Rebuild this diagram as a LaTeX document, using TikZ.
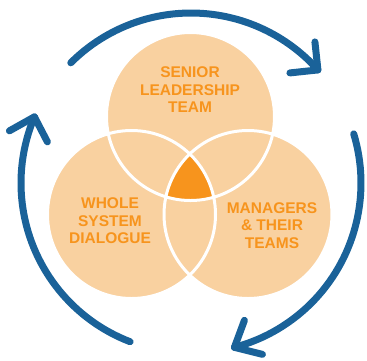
\documentclass[tikz,border=0pt]{standalone}
\usepackage{fontspec}
\setmainfont{Liberation Sans}
\usetikzlibrary{calc}
\definecolor{petal}{HTML}{F9D1A0}
\definecolor{core}{HTML}{F7941D}
\definecolor{cycle}{HTML}{1A6299}
\begin{document}
\begin{tikzpicture}[x=1pt,y=-1pt,
  ringtext/.style={text=core,font=\bfseries\fontsize{15.5}{17.5}\selectfont,align=center,inner sep=0pt},
  loop/.style={draw=cycle,line width=7pt,line cap=round,line join=round},
  rim/.style={draw=white,line width=3pt}]
\useasboundingbox (0,0) rectangle (367,360);
\def\R{84}
% three overlapping circles
\coordinate (top) at (190.5,116.5);
\coordinate (left) at (131.5,214.5);
\coordinate (right) at (248,214.5);
\fill[petal] (top) circle[radius=\R] (left) circle[radius=\R] (right) circle[radius=\R];
% common core of all three
\begin{scope}
  \clip (top) circle[radius=\R];
  \clip (left) circle[radius=\R];
  \fill[core] (right) circle[radius=\R];
\end{scope}
\draw[rim] (top) circle[radius=\R] (left) circle[radius=\R] (right) circle[radius=\R];
% labels
\node[ringtext] (slt) at (190,90) {SENIOR\\LEADERSHIP\\TEAM};
\node[ringtext] (wsd) at (110,221) {WHOLE\\SYSTEM\\DIALOGUE};
\node[ringtext] (mgr) at (272,225.5) {MANAGERS\\\& THEIR\\TEAMS};
% circular arrows around the diagram
\coordinate (hub) at (191,183);
\draw[loop] (hub) ++(-135:170) arc[start angle=-135,end angle=-41.7,radius=170] coordinate (tipA);
\draw[loop] ($(tipA)+(-3,-28)$) -- (tipA) -- ($(tipA)+(-28,3)$);
\draw[loop] (hub) ++(-16.8:170) arc[start angle=-16.8,end angle=75.2,radius=170] coordinate (tipB);
\draw[loop] ($(tipB)+(10,-27)$) -- (tipB) -- ($(tipB)+(28,7)$);
\draw[loop] (hub) ++(111:170) arc[start angle=111,end angle=202.9,radius=170] coordinate (tipC);
\draw[loop] ($(tipC)+(-25,14)$) -- (tipC) -- ($(tipC)+(13,25)$);
\end{tikzpicture}
\end{document}
